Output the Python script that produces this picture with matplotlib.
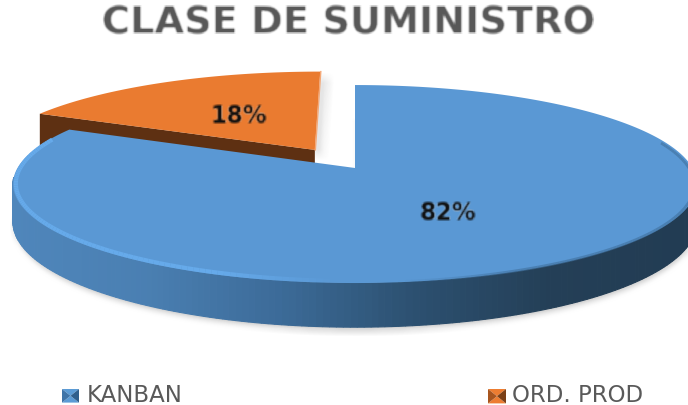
import numpy as np
import matplotlib
matplotlib.use("Agg")
import matplotlib.pyplot as plt
from matplotlib.colors import LinearSegmentedColormap

plt.rcParams["font.family"] = ["DejaVu Sans"]

# Data
TITLE = "CLASE DE SUMINISTRO"
categories = ["KANBAN", "ORD. PROD"]
shares = [82, 18]
explode = [0.0, 0.229]

# Palette
BLUE = "#5a98d4"
BLUE_RIM = "#66aaea"
ORANGE = "#ea7b30"
BROWN = "#5e3012"
GREY = "#595959"

# Pie geometry, in pixels of the output
W, H = 688, 405
CX, CY = 355, 168
RX, RY = 337.5, 96.4
PERSP = 0.162
DEPTH = 37


def project(u, v, z=0.0):
    # disk coordinates -> picture, far side shrinks a little
    d = 1 + PERSP * v
    return CX + RX * u / d, CY - RY * v / d + DEPTH * z / d


def blur(n):
    # box blur for agg_filter, the reference is a soft upscaled bitmap
    def f(img, dpi):
        pad = 2 * n
        out = np.pad(img, ((pad, pad), (pad, pad), (0, 0)))
        for axis in (0, 1):
            out = sum(np.roll(out, s, axis=axis) for s in range(-n, n + 1)) / (2 * n + 1)
        return out, -pad, -pad
    return f


def sector_angles():
    # clockwise from 12 o'clock, first category first
    t0 = 0.0
    out = []
    for s in shares:
        t1 = t0 + 2 * np.pi * s / sum(shares)
        out.append((t0, t1))
        t0 = t1
    return out


def sector_outline(t0, t1, e):
    mid = (t0 + t1) / 2
    ou, ov = e * np.sin(mid), e * np.cos(mid)
    t = np.linspace(t0, t1, 300)
    u = np.r_[ou, ou + np.sin(t)]
    v = np.r_[ov, ov + np.cos(t)]
    return u, v


def legend_marker(ax, x, y, size, light, dark, side):
    x0, x1, y0, y1 = x, x + size, y, y + size * 0.8
    xc, yc = x + size / 2, y + size * 0.4
    ax.fill([x0, x1, xc], [y0, y0, yc], color=light, lw=0, zorder=6)
    ax.fill([x0, x1, xc], [y1, y1, yc], color=light, lw=0, zorder=6)
    ax.fill([x0, x0, xc], [y0, y1, yc], color=side, lw=0, zorder=6)
    ax.fill([x1, x1, xc], [y0, y1, yc], color=dark, lw=0, zorder=6)


fig = plt.figure(figsize=(W / 100, H / 100), dpi=100, facecolor="white")
ax = fig.add_axes([0, 0, 1, 1])
ax.set_xlim(0, W)
ax.set_ylim(H, 0)
ax.axis("off")

(b0, b1), (o0, o1) = sector_angles()

# soft shadow below the pie
su, sv = sector_outline(b0, b1, 0)
sx, sy = project(su, sv, 1.0)
ax.fill(sx + 1, sy + 5, color="#000000", alpha=0.18, lw=0, zorder=1, agg_filter=blur(4))

# orange slice: side wall first, then top
ou, ov = sector_outline(o0, o1, explode[1])
ox, oy = project(ou, ov)
ox2, oy2 = project(ou, ov, 1.0)
ax.fill(ox + 9, oy + 6, color="#000000", alpha=0.10, lw=0, zorder=1, agg_filter=blur(5))
ax.fill(np.r_[ox[0], ox[1], ox2[1], ox2[0]], np.r_[oy[0], oy[1], oy2[1], oy2[0]],
        color=BROWN, lw=0, zorder=2)
ax.fill(ox, oy, color=ORANGE, lw=0, zorder=3)
ax.plot([ox[0] + 0.5, ox[-1] + 0.5], [oy[0], oy[-1]], color="#f4a877", lw=1, zorder=3)

# blue slice: outer wall with a left to right shade
cmap = LinearSegmentedColormap.from_list(
    "wall", ["#4f86bb", "#4a7fb2", "#3c6b98", "#2c5070", "#243f57", "#223c53"])
bu, bv = sector_outline(b0, b1, 0)
wx, wy = project(bu[1:], bv[1:])
wx2, wy2 = project(bu[1:], bv[1:], 1.0)
for i in range(len(wx) - 1):
    if bv[i + 1] > -0.1:
        continue
    c = cmap(np.clip((wx[i] - 13) / (W - 13), 0, 1))
    ax.fill([wx[i], wx[i + 1], wx2[i + 1], wx2[i]], [wy[i], wy[i + 1], wy2[i + 1], wy2[i]],
            color=c, ec=c, lw=0.8, zorder=4)

# blue top, bevel runs along the front edge and fades out towards the middle
bx, by = project(bu, bv)
ax.fill(bx, by, color=BLUE, lw=0, zorder=5)
rx, ry = project(bu[1:] * 0.992, bv[1:] * 0.985)
front = bv[1:] < 0.3
for i in range(len(rx) - 1):
    if not front[i]:
        continue
    if rx[i] < 340:
        a = np.clip((340 - rx[i]) / 120, 0, 1)
        ax.plot(rx[i:i + 2], ry[i:i + 2], color=BLUE_RIM, lw=3, alpha=a, zorder=5,
                solid_capstyle="butt")
    elif rx[i] > 400:
        a = 0.6 * np.clip((rx[i] - 400) / 120, 0, 1)
        ax.plot(rx[i:i + 2], ry[i:i + 2] + 1.5, color="#3f6f9c", lw=2, alpha=a, zorder=5,
                solid_capstyle="butt")

# percent labels
ax.text(239, 116, f"{shares[1]}%", fontsize=17, fontweight="bold", color="#111111",
        ha="center", va="center", zorder=7, agg_filter=blur(1))
ax.text(448, 213, f"{shares[0]}%", fontsize=17, fontweight="bold", color="#111111",
        ha="center", va="center", zorder=7, agg_filter=blur(1))

ax.text(349, 24, TITLE, fontsize=27.5, fontweight="bold", color=GREY, ha="center", va="center",
        zorder=7, agg_filter=blur(1))

# legend
legend_marker(ax, 62, 389, 17, "#5b9bd5", "#2f5f8c", "#3f74a8")
legend_marker(ax, 488, 389, 18, "#ed7d31", "#7a3f16", "#a8551e")
ax.text(87, 395, categories[0], fontsize=16.5, color=GREY, ha="left", va="center", zorder=7)
ax.text(512, 395, categories[1], fontsize=16.5, color=GREY, ha="left", va="center", zorder=7)

fig.savefig("out.png", dpi=100, facecolor="white")
